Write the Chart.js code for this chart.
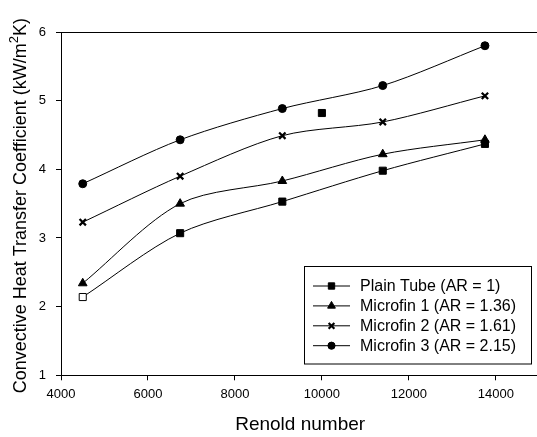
<!DOCTYPE html>
<html>
<head>
<meta charset="utf-8">
<script src="https://cdn.jsdelivr.net/npm/chart.js@4"></script>
<style>
  html, body { margin: 0; padding: 0; background: #fff; overflow: hidden; }
  #wrap { position: absolute; left: 0; top: 0; width: 546px; height: 437px; }
</style>
</head>
<body>
<div id="wrap"><canvas id="myChart" width="546" height="437"></canvas></div>
<script>
const renoldNumbers = [4500, 6740, 9090, 11400, 13750];
const plainTube = [2.14, 3.07, 3.53, 3.98, 4.37];
const microfin1 = [2.34, 3.50, 3.83, 4.22, 4.43];
const microfin2 = [3.23, 3.90, 4.49, 4.69, 5.07];
const microfin3 = [3.79, 4.43, 4.885, 5.22, 5.80];
// lone marker sitting between the curves in the original figure
const strayX = [10000];
const strayY = [4.82];

const xTicks = [4000, 6000, 8000, 10000, 12000, 14000];
const yTicks = [1, 2, 3, 4, 5, 6];

const FONT = "'Liberation Sans', Arial, sans-serif";

const pts = (xs, ys) => xs.map((x, i) => ({ x: x, y: ys[i] }));

const ctx = document.getElementById("myChart").getContext("2d");

const series = [
  { label: "Plain Tube (AR = 1)", values: plainTube, style: "rect", radius: 5, bw: 1,
    fill: ['#ffffff', '#000', '#000', '#000', '#000'] },
  { label: "Microfin 1 (AR = 1.36)", values: microfin1, style: "triangle", radius: 5, bw: 1, fill: '#000' },
  { label: "Microfin 2 (AR = 1.61)", values: microfin2, style: "crossRot", radius: 4.5, bw: 2.2, fill: '#000' },
  { label: "Microfin 3 (AR = 2.15)", values: microfin3, style: "circle", radius: 4, bw: 1, fill: '#000' },
];

const datasets = series.map(s => ({
  label: s.label,
  data: pts(renoldNumbers, s.values),
  showLine: true,
  borderColor: '#000',
  borderWidth: 1,
  tension: 0.3,
  pointStyle: s.style,
  pointRadius: s.radius,
  pointBorderWidth: s.bw,
  pointBorderColor: '#000',
  pointBackgroundColor: s.fill,
}));

datasets.push({
  label: 'extra',
  data: pts(strayX, strayY),
  showLine: false,
  pointStyle: 'rect',
  pointRadius: 5,
  pointBorderWidth: 1,
  pointBorderColor: '#000',
  pointBackgroundColor: '#000',
});

// top frame line, y title with superscript, boxed legend with line-through markers
const framePlugin = {
  id: 'frame',
  afterDraw(chart) {
    const c = chart.ctx;
    const a = chart.chartArea;
    c.save();
    c.strokeStyle = '#000';
    c.lineWidth = 1;
    c.beginPath();
    c.moveTo(a.left, Math.round(a.top) + 0.5);
    c.lineTo(a.right, Math.round(a.top) + 0.5);
    c.stroke();

    // y axis title
    c.save();
    c.translate(21.5, (a.top + a.bottom) / 2 + 2);
    c.rotate(-Math.PI / 2);
    c.fillStyle = '#000';
    c.textBaseline = 'middle';
    c.textAlign = 'left';
    const main = "Convective Heat Transfer Coefficient (kW/m", sup = "2", tail = "K)";
    c.font = "18px " + FONT;
    const w1 = c.measureText(main).width, w3 = c.measureText(tail).width;
    c.font = "13px " + FONT;
    const w2 = c.measureText(sup).width;
    let x0 = -(w1 + w2 + w3) / 2;
    c.font = "18px " + FONT;
    c.fillText(main, x0, 0);
    c.font = "13px " + FONT;
    c.fillText(sup, x0 + w1, -7);
    c.font = "18px " + FONT;
    c.fillText(tail, x0 + w1 + w2, 0);
    c.restore();

    const bx = 304.5, by = 266.5, bw = 227, bh = 97.5;
    c.strokeRect(bx, by, bw, bh);
    c.font = "16px " + FONT;
    c.textBaseline = 'middle';
    series.forEach((s, i) => {
      const y = 286 + i * 19.9;
      c.beginPath();
      c.lineWidth = 1;
      c.moveTo(313, y);
      c.lineTo(350, y);
      c.stroke();
      c.fillStyle = '#000';
      c.lineWidth = s.bw;
      Chart.helpers.drawPoint(c, { pointStyle: s.style, radius: s.radius * 0.9, borderWidth: s.bw }, 331.5, y);
      c.fillText(s.label, 360, y + 1);
    });
    c.restore();
  }
};

const config = {
  type: 'scatter',
  data: { datasets: datasets },
  options: {
    responsive: false,
    animation: false,
    layout: { padding: { left: 0, top: 32, right: 1, bottom: 0 } },
    plugins: {
      legend: { display: false },
      tooltip: { enabled: false },
    },
    scales: {
      x: {
        type: 'linear',
        min: 4000,
        max: 15000,
        afterBuildTicks: (axis) => { axis.ticks = xTicks.map(v => ({ value: v })); },
        afterFit: (axis) => { axis.paddingLeft = 0; axis.paddingRight = 0; axis.height = 61.7; },
        grid: { drawOnChartArea: false, tickLength: 5, color: '#000' },
        border: { color: '#000', width: 1 },
        ticks: { color: '#000', font: { family: FONT, size: 13 }, padding: 6, maxRotation: 0,
                 callback: v => String(v) },
        title: { display: true, text: 'Renold number', color: '#000',
                 font: { family: FONT, size: 19 }, padding: { top: 11, bottom: 1 } },
      },
      y: {
        type: 'linear',
        min: 1,
        max: 6,
        afterBuildTicks: (axis) => { axis.ticks = yTicks.map(v => ({ value: v })); },
        afterFit: (axis) => { axis.width = 61; axis.paddingTop = 0; axis.paddingBottom = 0; },
        grid: { drawOnChartArea: false, tickLength: 5, color: '#000' },
        border: { color: '#000', width: 1 },
        ticks: { color: '#000', font: { family: FONT, size: 13 }, padding: 10 },
        title: { display: false },
      },
    },
  },
  plugins: [framePlugin],
};

const myChart = new Chart(ctx, config);
</script>
</body>
</html>
